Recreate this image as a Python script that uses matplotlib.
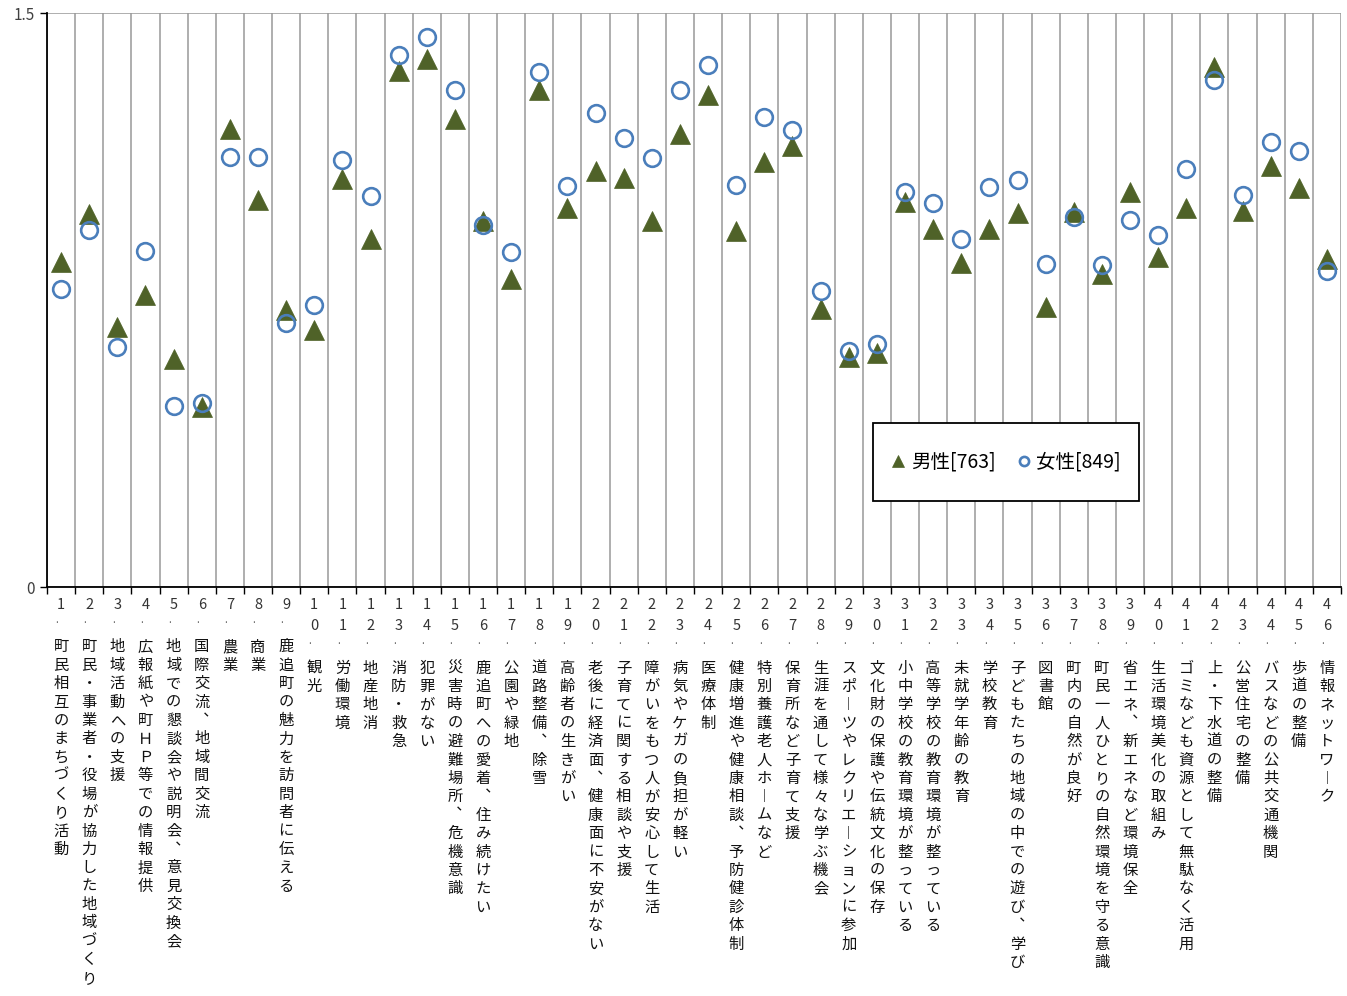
import matplotlib
matplotlib.use("Agg")
import matplotlib.pyplot as plt
from matplotlib.patches import Rectangle

plt.rcParams['font.family'] = ['Noto Sans CJK JP', 'DejaVu Sans']

categories = [
    "町民相互のまちづくり活動",
    "町民・事業者・役場が協力した地域づくり",
    "地域活動への支援",
    "広報紙や町ＨＰ等での情報提供",
    "地域での懇談会や説明会、意見交換会",
    "国際交流、地域間交流",
    "農業",
    "商業",
    "鹿追町の魅力を訪問者に伝える",
    "観光",
    "労働環境",
    "地産地消",
    "消防・救急",
    "犯罪がない",
    "災害時の避難場所、危機意識",
    "鹿追町への愛着、住み続けたい",
    "公園や緑地",
    "道路整備、除雪",
    "高齢者の生きがい",
    "老後に経済面、健康面に不安がない",
    "子育てに関する相談や支援",
    "障がいをもつ人が安心して生活",
    "病気やケガの負担が軽い",
    "医療体制",
    "健康増進や健康相談、予防健診体制",
    "特別養護老人ホームなど",
    "保育所など子育て支援",
    "生涯を通して様々な学ぶ機会",
    "スポーツやレクリエーションに参加",
    "文化財の保護や伝統文化の保存",
    "小中学校の教育環境が整っている",
    "高等学校の教育環境が整っている",
    "未就学年齢の教育",
    "学校教育",
    "子どもたちの地域の中での遊び、学び",
    "図書館",
    "町内の自然が良好",
    "町民一人ひとりの自然環境を守る意識",
    "省エネ、新エネなど環境保全",
    "生活環境美化の取組み",
    "ゴミなども資源として無駄なく活用",
    "上・下水道の整備",
    "公営住宅の整備",
    "バスなどの公共交通機関",
    "歩道の整備",
    "情報ネットワーク",
]

male = [0.849, 0.975, 0.679, 0.763, 0.596, 0.470, 1.197, 1.011, 0.724, 0.672,
        1.066, 0.909, 1.348, 1.380, 1.223, 0.956, 0.805, 1.299, 0.990, 1.087,
        1.069, 0.956, 1.184, 1.286, 0.930, 1.111, 1.152, 0.726, 0.601, 0.611,
        1.006, 0.936, 0.847, 0.936, 0.977, 0.732, 0.980, 0.818, 1.032, 0.862,
        0.990, 1.359, 0.983, 1.100, 1.043, 0.857]

female = [0.779, 0.933, 0.627, 0.878, 0.473, 0.481, 1.124, 1.124, 0.690, 0.737,
          1.116, 1.022, 1.390, 1.437, 1.299, 0.946, 0.875, 1.346, 1.048, 1.239,
          1.173, 1.121, 1.299, 1.364, 1.051, 1.228, 1.194, 0.774, 0.617, 0.635,
          1.032, 1.003, 0.909, 1.045, 1.064, 0.844, 0.967, 0.841, 0.959, 0.920,
          1.092, 1.325, 1.024, 1.163, 1.139, 0.826]

male_label = "男性[763]"
female_label = "女性[849]"
y_ticks = [0, 1.5]
y_ticklabels = ["0", "1.5"]

# vertical writing forms
vert_map = {"ー": "︱", "、": "︑"}

fig = plt.figure(figsize=(13.47, 9.96), dpi=100)
ax = fig.add_axes([47 / 1347, (996 - 587) / 996, (1341 - 47) / 1347, (587 - 13) / 996])

n = len(categories)
xs = list(range(1, n + 1))

ax.plot(xs, male, linestyle='none', marker='^', markersize=14.5,
        color='#4F6228', markeredgecolor='#4F6228', markeredgewidth=0.5,
        label=male_label, zorder=6)
ax.plot(xs, female, linestyle='none', marker='o', markersize=12,
        markerfacecolor='none', markeredgecolor='#4A7EBB', markeredgewidth=1.9,
        label=female_label, zorder=7)

ax.set_xlim(0.5, n + 0.5)
ax.set_ylim(0, 1.5)

# boundaries ticks + gridlines
ax.set_xticks([i + 0.5 for i in range(0, n + 1)])
ax.set_xticklabels([])
ax.tick_params(axis='x', which='major', direction='out', length=5, width=1, color='black')
ax.set_yticks(y_ticks)
ax.set_yticklabels(y_ticklabels, fontsize=11, color='#404040')
ax.tick_params(axis='y', direction='out', length=5, width=1, color='black', pad=4)
ax.set_axisbelow(True)
ax.grid(True, axis='both', color='#999999', linewidth=1.1)

for s in ['top', 'right']:
    ax.spines[s].set_visible(False)
ax.spines['left'].set_color('black')
ax.spines['left'].set_linewidth(1.3)
ax.spines['bottom'].set_color('black')
ax.spines['bottom'].set_linewidth(1.3)

# vertical category labels
px = 0.72  # points per pixel at 100 dpi
for i, name in enumerate(categories, start=1):
    digits = str(i)
    y = 18
    for d in digits:
        ax.annotate(d, xy=(i, 0), xycoords=('data', 'axes fraction'),
                    xytext=(0, -y * px), textcoords='offset points',
                    ha='center', va='center', fontsize=10.5, color='#333333')
        y += 21
    ax.annotate(".", xy=(i, 0), xycoords=('data', 'axes fraction'),
                xytext=(-3, -(y - 6) * px), textcoords='offset points',
                ha='center', va='center', fontsize=7, color='#555555')
    y += 21
    for ch in name:
        ch2 = vert_map.get(ch, ch)
        ax.annotate(ch2, xy=(i, 0), xycoords=('data', 'axes fraction'),
                    xytext=(0, -y * px), textcoords='offset points',
                    ha='center', va='center', fontsize=11, color='#111111')
        y += 18.4

# legend box
x0 = (873 - 47) / 1294
x1 = (1139 - 47) / 1294
y0 = (587 - 501) / 574
y1 = (587 - 423) / 574
ax.add_patch(Rectangle((x0, y0), x1 - x0, y1 - y0, transform=ax.transAxes,
                       facecolor='white', edgecolor='black', linewidth=1.3, zorder=8))
leg = ax.legend(ncol=2, loc='center', bbox_to_anchor=((x0 + x1) / 2, (y0 + y1) / 2),
                frameon=False, fontsize=14, markerscale=0.55, handlelength=0.7,
                handletextpad=0.3, columnspacing=1.1)
leg.set_zorder(9)

fig.savefig("out.png", dpi=100)
